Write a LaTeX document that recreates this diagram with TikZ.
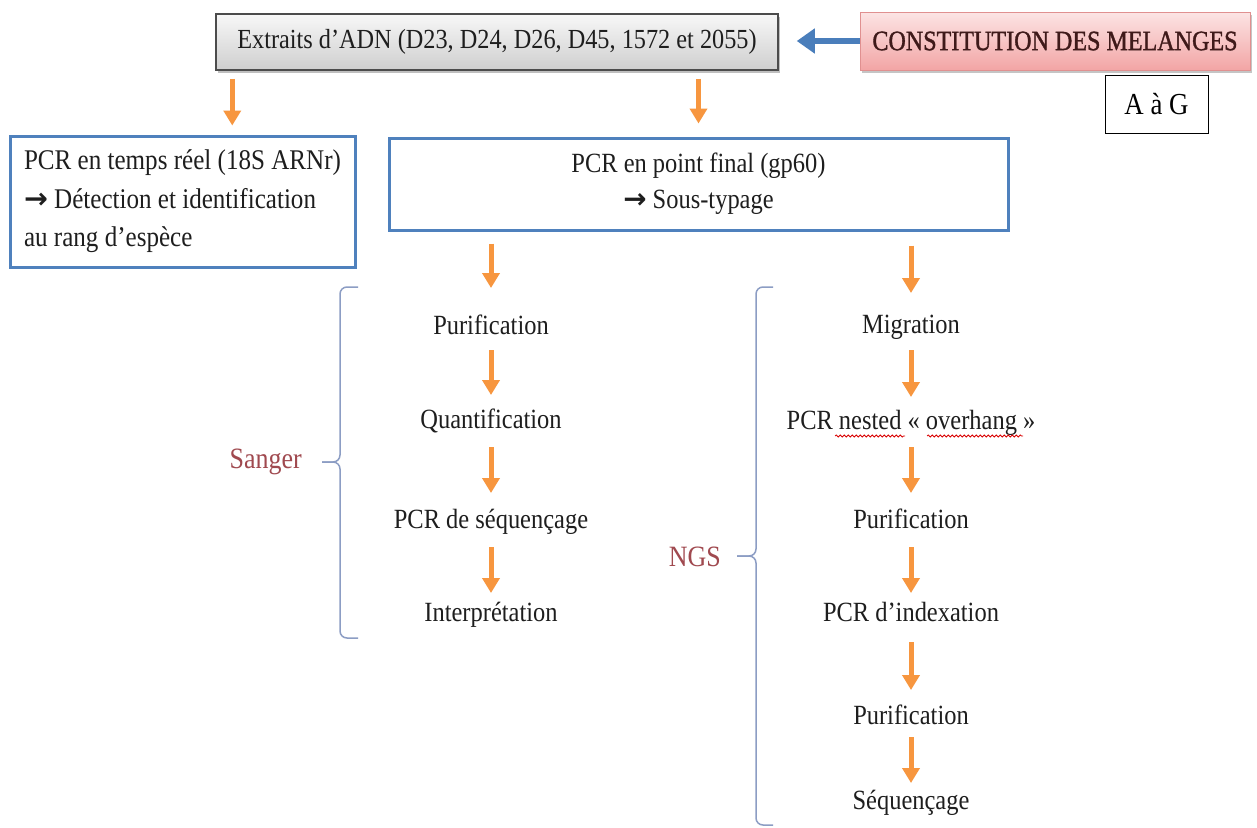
\documentclass[tikz,border=0pt]{standalone}
\usepackage{fontspec}
\setmainfont{Liberation Serif}[FakeStretch=0.88]
\newfontfamily\symf{DejaVu Sans}
\newfontfamily\titlef{Liberation Serif}[FakeStretch=0.86,FakeBold=1.2]
\usetikzlibrary{arrows.meta,shadows,calc,decorations.pathmorphing}
\definecolor{boxblue}{HTML}{4F81BD}
\definecolor{arrorange}{HTML}{F7963F}
\definecolor{arrblue}{HTML}{4A7EBB}
\definecolor{labred}{HTML}{A0494F}
\definecolor{bracecol}{HTML}{8C9DC4}
\definecolor{pinktop}{HTML}{FCE4E4}
\definecolor{pinkbot}{HTML}{F2A5A5}
\definecolor{pinkdraw}{HTML}{E09090}
\definecolor{titlecol}{HTML}{3F1A1A}
\definecolor{txt}{HTML}{1E1E1E}
\newcommand{\bodyf}{\fontsize{27.8}{32}\selectfont}
\newcommand{\sarr}{{\symf\bfseries →}}
\begin{document}
\begin{tikzpicture}[x=1pt,y=-1pt,
  stepbox/.style={font=\bodyf,text=txt,inner sep=0pt,text height=19pt,text depth=7pt},
  bluebox/.style={draw=boxblue,line width=3pt,fill=white,text=txt},
  oarr/.style={draw=arrorange,line width=5pt,-{Triangle[width=17pt,length=15pt]}},
  barr/.style={draw=arrblue,line width=6pt,-{Triangle[width=24pt,length=18pt]}},
  bracestyle/.style={draw=bracecol,line width=1.5pt},
  lab/.style={font=\fontsize{29.5}{32}\selectfont,text=labred,inner sep=0pt}]
\useasboundingbox (0,0) rectangle (1257,827);
\fill[white] (0,0) rectangle (1257,827);

% top boxes
\node[draw=black!70,line width=1.5pt,top color=gray!6,bottom color=gray!38,
      drop shadow={shadow xshift=2pt,shadow yshift=-3pt,opacity=0.5},
      minimum width=562pt,minimum height=56pt,inner sep=0pt,
      font=\fontsize{27.6}{30}\selectfont,text=txt] (extr) at (497,42)
  {Extraits d’ADN (D23, D24, D26, D45, 1572 et 2055)};
\node[draw=pinkdraw,line width=1pt,top color=pinktop,bottom color=pinkbot,
      drop shadow={shadow xshift=2pt,shadow yshift=-3pt,opacity=0.45},
      minimum width=390pt,minimum height=58pt,inner sep=0pt,
      font=\titlef\fontsize{28}{30}\selectfont,text=titlecol] (mel) at (1055,41)
  {CONSTITUTION DES MELANGES};
\node[draw=black,line width=1pt,minimum width=103pt,minimum height=58pt,inner sep=0pt,
      font=\fontsize{30.5}{32}\selectfont,text=black] (ag) at (1156.5,104) {A à G};
\draw[barr,shorten >=18pt] (mel.west) -- (mel.west -| extr.east);

% second row boxes
\node[bluebox,minimum width=345pt,minimum height=131pt,align=left,inner sep=0pt,
  font=\fontsize{28.5}{38.5}\selectfont]
  (rt) at (182.5,201.5)
  {PCR en temps réel (18S ARNr)\\ \sarr{} Détection et identification\\ au rang d’espèce};
\node[bluebox,minimum width=619pt,minimum height=92pt,align=center,inner sep=0pt,
  font=\fontsize{27.8}{36}\selectfont]
  (pf) at (698.5,184)
  {PCR en point final (gp60)\\ \sarr{} Sous-typage};

\coordinate (a1) at ($(extr.south west)+(17,0)$);
\draw[oarr,shorten <=8pt,shorten >=9pt] (a1) -- (a1 |- rt.north);
\draw[oarr,shorten <=8pt,shorten >=13pt] (extr.south -| pf.north) -- (pf.north);

% Sanger column
\node[stepbox] (s1) at (491,328) {Purification};
\node[stepbox] (s2) at (491,422) {Quantification};
\node[stepbox] (s3) at (491,522) {PCR de séquençage};
\node[stepbox] (s4) at (491,615) {Interprétation};
\draw[oarr,shorten <=12pt,shorten >=40pt] (pf.south -| s1.center) -- (s1.center);
\draw[oarr,shorten <=22pt,shorten >=27pt] (s1.center) -- (s2.center);
\draw[oarr,shorten <=25pt,shorten >=29pt] (s2.center) -- (s3.center);
\draw[oarr,shorten <=25pt,shorten >=22pt] (s3.center) -- (s4.center);

% NGS column
\node[stepbox] (n1) at (911,327) {Migration};
\node[stepbox] (n2) at (911,423) {PCR nested « overhang »};
\node[stepbox] (n3) at (911,522) {Purification};
\node[stepbox] (n4) at (911,615) {PCR d’indexation};
\node[stepbox] (n5) at (911,718) {Purification};
\node[stepbox] (n6) at (911,803) {Séquençage};
\draw[oarr,shorten <=14pt,shorten >=34pt] (pf.south -| n1.center) -- (n1.center);
\draw[oarr,shorten <=23pt,shorten >=26pt] (n1.center) -- (n2.center);
\draw[oarr,shorten <=24pt,shorten >=29pt] (n2.center) -- (n3.center);
\draw[oarr,shorten <=25pt,shorten >=22pt] (n3.center) -- (n4.center);
\draw[oarr,shorten <=27pt,shorten >=28pt] (n4.center) -- (n5.center);
\draw[oarr,shorten <=19pt,shorten >=20pt] (n5.center) -- (n6.center);

% spell-check underlines
\draw[red!85!black,line width=0.8pt,decorate,decoration={snake,amplitude=1pt,segment length=4pt}]
  ($(n2.center)+(-76,13)$) -- ($(n2.center)+(-6,13)$);
\draw[red!85!black,line width=0.8pt,decorate,decoration={snake,amplitude=1pt,segment length=4pt}]
  ($(n2.center)+(16,13)$) -- ($(n2.center)+(112,13)$);

% braces and labels
\node[lab,anchor=east] (sg) at (302,462) {Sanger};
\draw[bracestyle] (358,287) -- (347,287) to[out=180,in=90] (340,294) -- (340,455)
  to[out=-90,in=0] (333,462) -- (322,462);
\draw[bracestyle] (322,462) -- (333,462) to[out=0,in=90] (340,469) -- (340,631)
  to[out=-90,in=180] (347,638) -- (358,638);

\node[lab,anchor=east] (ngs) at (721,557) {NGS};
\draw[bracestyle] (773,287) -- (763,287) to[out=180,in=90] (756,294) -- (756,549)
  to[out=-90,in=0] (749,556) -- (737,556);
\draw[bracestyle] (737,556) -- (749,556) to[out=0,in=90] (756,563) -- (756,818)
  to[out=-90,in=180] (763,825) -- (773,825);
\end{tikzpicture}
\end{document}
